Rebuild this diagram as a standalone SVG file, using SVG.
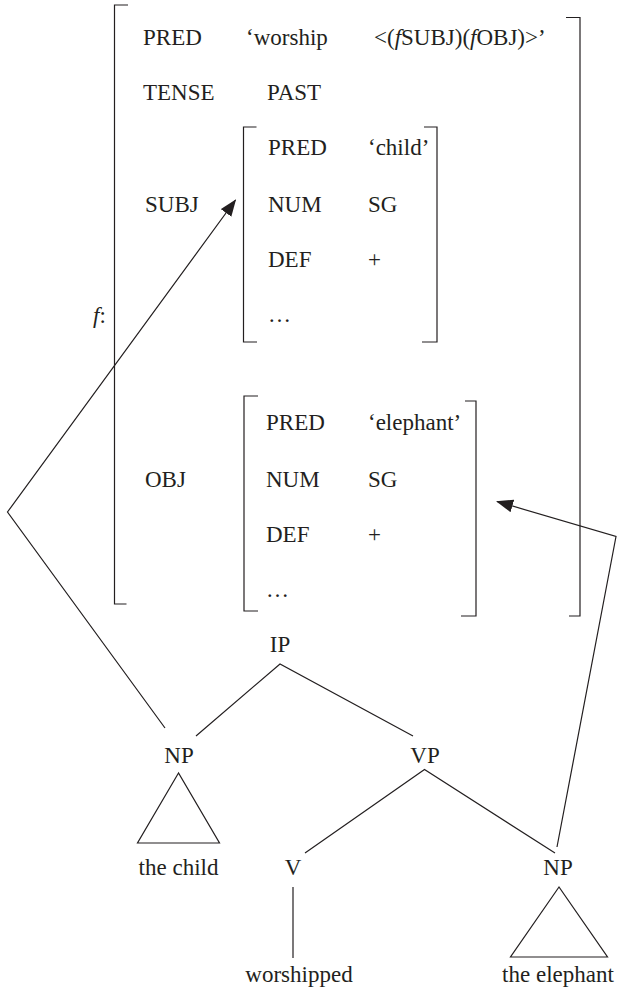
<svg xmlns="http://www.w3.org/2000/svg" width="619" height="990" viewBox="0 0 619 990">
  <style>
    text { font-family: "Liberation Serif", "Times New Roman", serif; font-size: 23px; fill: #231f20; }
    .it { font-style: italic; }
    .mid { text-anchor: middle; }
    .br { fill: none; stroke: #231f20; stroke-width: 1.2; }
    .edge { fill: none; stroke: #231f20; stroke-width: 1.2; }
    .arrow { fill: none; stroke: #231f20; stroke-width: 1.2; marker-end: url(#head); }
  </style>
  <defs>
    <marker id="head" markerUnits="userSpaceOnUse" markerWidth="18" markerHeight="14" refX="16" refY="6.5" orient="auto">
      <path d="M0,0 L17,6.5 L0,13 Z" fill="#231f20"/>
    </marker>
  </defs>
  <rect width="619" height="990" fill="#ffffff"/>

  <!-- f-structure -->
  <g id="fstructure">
    <text x="93" y="323"><tspan class="it">f</tspan>:</text>
    <path class="br" d="M128,5 H114.5 V604 H126.5"/>
    <path class="br" d="M566,17.5 H580 V616 H569"/>
    <text x="143" y="45">PRED</text>
    <text x="246" y="45">‘worship</text>
    <text x="374" y="45">&lt;(<tspan class="it">f</tspan>SUBJ)(<tspan class="it">f</tspan>OBJ)&gt;’</text>
    <text x="143" y="100">TENSE</text>
    <text x="267" y="100">PAST</text>
    <text x="145" y="212">SUBJ</text>
    <text x="145" y="487">OBJ</text>
  </g>

  <g id="subj">
    <path class="br" d="M256.5,127 H243.5 V342 H257"/>
    <path class="br" d="M424,127 H437 V342 H422"/>
    <text x="268" y="155">PRED</text>
    <text x="368" y="155">‘child’</text>
    <text x="268" y="212">NUM</text>
    <text x="368" y="212">SG</text>
    <text x="268" y="267">DEF</text>
    <text x="368" y="267">+</text>
    <text x="268" y="322">…</text>
  </g>

  <g id="obj">
    <path class="br" d="M258,396 H244 V611 H258"/>
    <path class="br" d="M465,401 H476 V616 H461"/>
    <text x="266" y="430">PRED</text>
    <text x="368" y="430">‘elephant’</text>
    <text x="266" y="487">NUM</text>
    <text x="368" y="487">SG</text>
    <text x="266" y="542">DEF</text>
    <text x="368" y="542">+</text>
    <text x="266" y="597">…</text>
  </g>

  <!-- c-structure -->
  <g id="ip"><text class="mid" x="280" y="652">IP</text></g>
  <g id="np-child">
    <text class="mid" x="179" y="763">NP</text>
    <path class="edge" d="M178.5,773 L137.5,843 H219.5 Z"/>
    <text class="mid" x="178.5" y="875">the child</text>
  </g>
  <g id="vp"><text class="mid" x="425" y="763">VP</text></g>
  <g id="v">
    <text class="mid" x="293" y="875">V</text>
    <text class="mid" x="299" y="982">worshipped</text>
  </g>
  <g id="np-elephant">
    <text class="mid" x="558" y="875">NP</text>
    <path class="edge" d="M559,887 L510.5,957 H607.5 Z"/>
    <text class="mid" x="558" y="982">the elephant</text>
  </g>

  <g id="connectors">
    <path class="edge" d="M196,736 L280,664 L413,736"/>
    <path class="edge" d="M305,853 L424.5,769.5 L555,853"/>
    <path class="edge" d="M293,887 V958"/>
    <path class="arrow" d="M165,728 L7.5,512 L235.5,200"/>
    <path class="arrow" d="M557,847 L616,536.5 L497,501.5"/>
  </g>
</svg>
